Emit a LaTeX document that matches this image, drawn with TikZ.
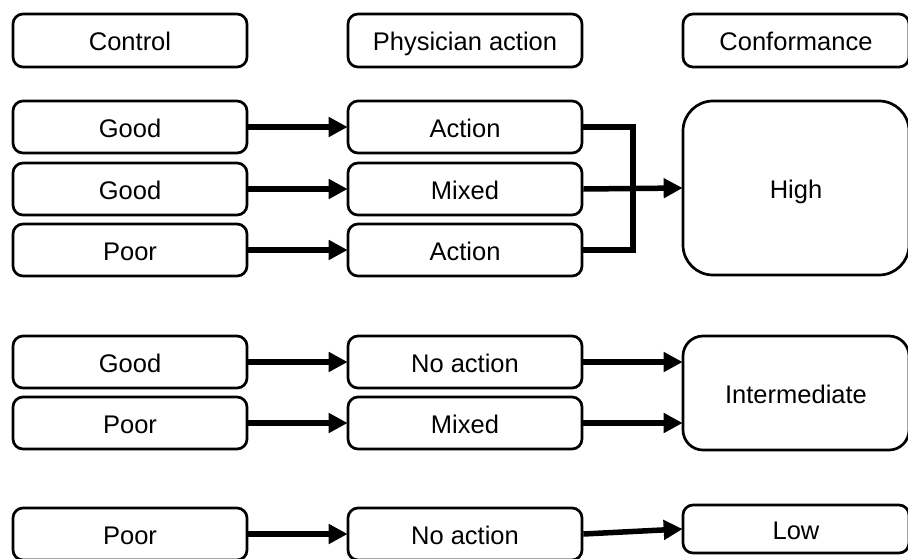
\documentclass[tikz,border=0pt]{standalone}
\usepackage{fontspec}
\setmainfont{Liberation Sans}
\usetikzlibrary{arrows.meta}
\begin{document}
\begin{tikzpicture}[x=1pt,y=-1pt,
  box/.style={draw, line width=2.7pt, rounded corners=10pt, minimum width=234pt, minimum height=52pt, inner sep=0pt, text height=23pt, text depth=3pt, font=\fontsize{25.5}{30}\selectfont},
  cbox/.style={box, minimum width=226pt},
  conn/.style={line width=5.5pt},
  arr/.style={conn, -{Triangle[length=19pt,width=19pt]}, shorten >=-1pt}
]
\useasboundingbox (0,0) rectangle (908,558);
\clip (0,0) rectangle (908,558);
% headers
\node[box, minimum height=53pt] (hc) at (130,40.5) {Control};
\node[box, minimum height=53pt] (hp) at (465,40.5) {Physician action};
\node[cbox, minimum height=53pt] (hf) at (796,40.5) {Conformance};
% group 1
\node[box] (c1) at (130,127) {Good};
\node[box] (c2) at (130,189) {Good};
\node[box] (c3) at (130,250) {Poor};
\node[box] (p1) at (465,127) {Action};
\node[box] (p2) at (465,189) {Mixed};
\node[box] (p3) at (465,250) {Action};
\node[cbox, minimum height=174pt, rounded corners=30pt] (high) at (796,188) {High};
% group 2
\node[box] (c4) at (130,362) {Good};
\node[box] (c5) at (130,423) {Poor};
\node[box] (p4) at (465,362) {No action};
\node[box] (p5) at (465,423) {Mixed};
\node[cbox, minimum height=114pt, rounded corners=20pt] (inter) at (796,393) {Intermediate};
% group 3
\node[box] (c6) at (130,534) {Poor};
\node[box] (p6) at (465,534) {No action};
\node[cbox, minimum height=48pt] (low) at (796,529) {Low};
% arrows
\foreach \a/\b in {c1/p1,c2/p2,c3/p3,c4/p4,c5/p5,c6/p6}
  \draw[arr] (\a.east) -- (\b.west);
\coordinate (j1) at (633,127);
\coordinate (j3) at (633,250);
\draw[conn, line join=miter] (p1.east) -- (j1) -- (j3) -- (p3.east);
\draw[arr] (p2.east) -- (high.west);
\draw[arr] (p4.east) -- (p4.east -| inter.west);
\draw[arr] (p5.east) -- (p5.east -| inter.west);
\draw[arr] (p6.east) -- (low.west);
\end{tikzpicture}
\end{document}
